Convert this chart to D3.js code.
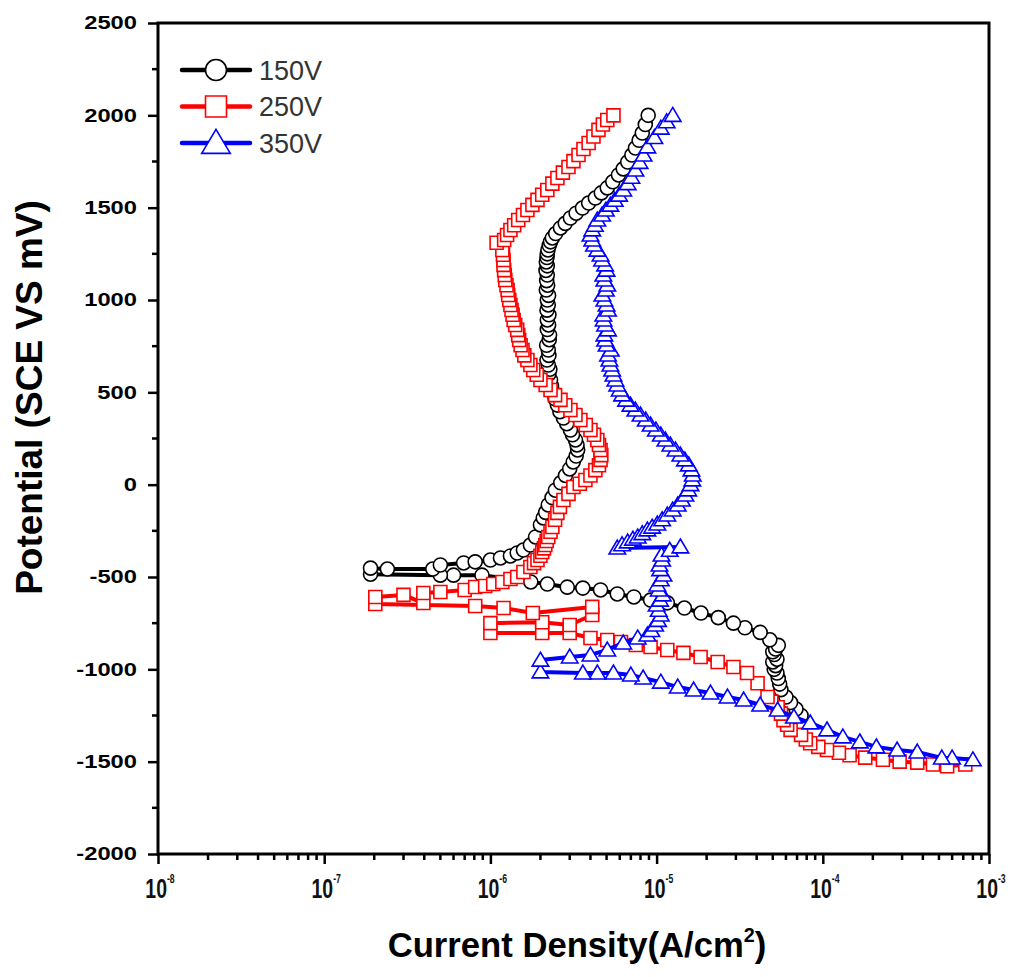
<!DOCTYPE html>
<html>
<head>
<meta charset="utf-8">
<script src="https://cdn.jsdelivr.net/npm/d3@7"></script>
<style>
  body { margin: 0; background: #fff; }
  svg { font-family: "Liberation Sans", Arial, sans-serif; }
</style>
</head>
<body>
<svg id="chart" width="1012" height="977"></svg>
<script>
// [current density (A/cm2), potential (mV vs SCE)], in scan order
const data150V = [
  [7.4e-5,-1250],[6.9e-5,-1215],[6.4e-5,-1180],[6.0e-5,-1150],[5.6e-5,-1110],[5.5e-5,-1080],
  [5.4e-5,-1050],[5.3e-5,-1020],[5.1e-5,-1000],[5.2e-5,-980],[5.0e-5,-960],[5.3e-5,-945],
  [5.1e-5,-920],[5.0e-5,-905],[5.2e-5,-890],[5.4e-5,-870],[4.8e-5,-840],[4.2e-5,-800],
  [3.4e-5,-775],[2.9e-5,-750],[2.35e-5,-720],[1.85e-5,-695],[1.47e-5,-668],[1.16e-5,-640],
  [9.2e-6,-625],[7.3e-6,-608],[5.8e-6,-592],[4.6e-6,-570],[3.6e-6,-560],[2.9e-6,-555],
  [2.2e-6,-538],[1.75e-6,-527],[8.9e-7,-490],[6.0e-7,-490],[5.0e-7,-490],[1.9e-7,-485],
  [1.9e-7,-452],[2.4e-7,-457],[4.5e-7,-457],[5.0e-7,-435],[6.9e-7,-424],[8.1e-7,-418],
  [1.0e-6,-408],[1.15e-6,-397],[1.32e-6,-386],[1.45e-6,-370],[1.58e-6,-354],[1.74e-6,-327],
  [1.87e-6,-283],[2.0e-6,-218],[2.08e-6,-180],[2.15e-6,-150],[2.23e-6,-110],[2.35e-6,-70],
  [2.46e-6,-30],[2.65e-6,10],[2.83e-6,50],[3.0e-6,85],[3.15e-6,123],[3.28e-6,155],
  [3.35e-6,188],[3.32e-6,215],[3.25e-6,242],[3.12e-6,270],[3.03e-6,296],[2.88e-6,330],
  [2.75e-6,361],[2.62e-6,395],[2.53e-6,431],[2.45e-6,465],[2.39e-6,500],[2.33e-6,535],
  [2.3e-6,567],[2.25e-6,600],[2.28e-6,625],[2.23e-6,648],[2.19e-6,675],[2.25e-6,700],
  [2.23e-6,729],[2.18e-6,755],[2.26e-6,785],[2.27e-6,811],[2.2e-6,840],[2.24e-6,865],
  [2.2e-6,892],[2.25e-6,920],[2.19e-6,945],[2.23e-6,973],[2.2e-6,1000],[2.24e-6,1025],
  [2.17e-6,1054],[2.21e-6,1080],[2.18e-6,1105],[2.2e-6,1135],[2.16e-6,1160],[2.2e-6,1185],
  [2.17e-6,1206],[2.19e-6,1230],[2.2e-6,1250],[2.22e-6,1271],[2.26e-6,1295],[2.3e-6,1315],
  [2.36e-6,1336],[2.47e-6,1360],[2.64e-6,1390],[2.82e-6,1415],[3.03e-6,1444],[3.28e-6,1470],
  [3.58e-6,1498],[3.9e-6,1525],[4.28e-6,1552],[4.65e-6,1580],[5.05e-6,1607],[5.45e-6,1640],
  [5.9e-6,1677],[6.3e-6,1710],[6.7e-6,1747],[7.1e-6,1785],[7.46e-6,1823],[7.85e-6,1865],
  [8.2e-6,1904],[8.55e-6,1950],[8.9e-6,2000]
];
const data250V = [
  [7.2e-4,-1515],[5.6e-4,-1525],[4.6e-4,-1515],[3.7e-4,-1505],[2.9e-4,-1500],[2.3e-4,-1490],
  [1.8e-4,-1478],[1.45e-4,-1465],[1.25e-4,-1452],[1.06e-4,-1437],[9.4e-5,-1420],[8.4e-5,-1400],
  [7.9e-5,-1380],[7.4e-5,-1355],[6.4e-5,-1328],[6.1e-5,-1300],[5.8e-5,-1275],[5.6e-5,-1240],
  [5.35e-5,-1205],[4.9e-5,-1175],[4.65e-5,-1150],[4.05e-5,-1075],[3.5e-5,-1020],[2.9e-5,-987],
  [2.33e-5,-960],[1.84e-5,-933],[1.45e-5,-911],[1.16e-5,-895],[9.2e-6,-879],[7.5e-6,-868],
  [6.1e-6,-852],[5.05e-6,-841],[4.0e-6,-830],[3.0e-6,-803],[2.05e-6,-803],[1.0e-6,-803],
  [1.0e-6,-750],[2.05e-6,-745],[3.0e-6,-760],[4.1e-6,-706],[4.1e-6,-662],[1.8e-6,-695],
  [1.2e-6,-668],[8.1e-7,-657],[2.03e-7,-646],[2.03e-7,-608],[3.0e-7,-597],[3.95e-7,-641],
  [3.95e-7,-587],[5.0e-7,-581],[7.0e-7,-570],[8.1e-7,-554],[9.3e-7,-549],[1.04e-6,-538],
  [1.18e-6,-527],[1.32e-6,-511],[1.45e-6,-500],[1.58e-6,-473],[1.74e-6,-446],[1.83e-6,-425],
  [1.92e-6,-408],[2.0e-6,-385],[2.05e-6,-365],[2.1e-6,-345],[2.14e-6,-327],[2.18e-6,-305],
  [2.23e-6,-283],[2.3e-6,-255],[2.36e-6,-229],[2.45e-6,-190],[2.53e-6,-153],[2.62e-6,-120],
  [2.75e-6,-83],[2.95e-6,-50],[3.16e-6,-13],[3.45e-6,5],[3.73e-6,25],[4.0e-6,50],
  [4.28e-6,79],[4.5e-6,105],[4.6e-6,134],[4.65e-6,160],[4.6e-6,188],[4.5e-6,215],
  [4.4e-6,242],[4.2e-6,270],[4.0e-6,296],[3.75e-6,323],[3.48e-6,350],[3.25e-6,377],
  [3.03e-6,404],[2.82e-6,430],[2.64e-6,459],[2.45e-6,485],[2.3e-6,513],[2.15e-6,540],
  [2.0e-6,567],[1.9e-6,595],[1.81e-6,621],[1.74e-6,648],[1.67e-6,675],[1.6e-6,700],
  [1.56e-6,729],[1.52e-6,755],[1.49e-6,783],[1.47e-6,810],[1.45e-6,838],[1.41e-6,865],
  [1.38e-6,892],[1.36e-6,920],[1.34e-6,946],[1.32e-6,973],[1.3e-6,1000],[1.28e-6,1027],
  [1.27e-6,1054],[1.25e-6,1080],[1.23e-6,1108],[1.22e-6,1135],[1.21e-6,1162],[1.2e-6,1190],
  [1.2e-6,1217],[1.19e-6,1245],[1.18e-6,1271],[1.09e-6,1310],[1.21e-6,1325],[1.26e-6,1352],
  [1.32e-6,1379],[1.39e-6,1405],[1.47e-6,1433],[1.57e-6,1460],[1.67e-6,1487],[1.79e-6,1515],
  [1.92e-6,1542],[2.05e-6,1570],[2.2e-6,1596],[2.36e-6,1630],[2.53e-6,1661],[2.73e-6,1690],
  [2.95e-6,1720],[3.16e-6,1752],[3.39e-6,1785],[3.63e-6,1818],[3.9e-6,1850],[4.17e-6,1885],
  [4.47e-6,1921],[4.75e-6,1950],[5.05e-6,1975],[5.5e-6,2000]
];
const data350V = [
  [8.0e-4,-1490],[6.0e-4,-1480],[5.2e-4,-1480],[3.7e-4,-1448],[2.8e-4,-1437],[2.1e-4,-1420],
  [1.67e-4,-1393],[1.32e-4,-1366],[1.06e-4,-1328],[8.4e-5,-1290],[6.7e-5,-1258],[5.35e-5,-1220],
  [4.2e-5,-1193],[3.34e-5,-1166],[2.67e-5,-1150],[2.11e-5,-1128],[1.67e-5,-1112],[1.34e-5,-1096],
  [1.06e-5,-1069],[8.3e-6,-1047],[7.0e-6,-1031],[5.5e-6,-1020],[4.4e-6,-1020],[3.6e-6,-1020],
  [2.0e-6,-1014],[2.0e-6,-950],[3.0e-6,-933],[4.0e-6,-922],[5.05e-6,-895],[6.3e-6,-857],
  [7.7e-6,-830],[8.8e-6,-814],[9.3e-6,-790],[9.8e-6,-760],[1.02e-5,-735],[1.06e-5,-706],
  [1.03e-5,-680],[1.0e-5,-652],[1.05e-5,-625],[1.09e-5,-597],[1.03e-5,-570],[1.01e-5,-543],
  [1.06e-5,-515],[1.1e-5,-489],[1.05e-5,-460],[1.04e-5,-435],[1.08e-5,-408],[1.07e-5,-381],
  [1.2e-5,-355],[1.39e-5,-337],[5.8e-6,-343],[6.2e-6,-325],[6.7e-6,-310],[7.2e-6,-295],
  [7.7e-6,-283],[8.2e-6,-265],[8.8e-6,-245],[9.4e-6,-230],[1.01e-5,-213],[1.08e-5,-190],
  [1.16e-5,-164],[1.25e-5,-137],[1.34e-5,-110],[1.42e-5,-83],[1.49e-5,-56],[1.55e-5,-28],
  [1.6e-5,0],[1.64e-5,26],[1.65e-5,52],[1.62e-5,80],[1.56e-5,107],[1.48e-5,134],
  [1.39e-5,161],[1.3e-5,188],[1.21e-5,215],[1.13e-5,242],[1.06e-5,269],[9.9e-6,296],
  [9.2e-6,323],[8.6e-6,350],[8.0e-6,377],[7.45e-6,404],[6.96e-6,431],[6.55e-6,458],
  [6.2e-6,486],[6.0e-6,513],[5.8e-6,540],[5.65e-6,567],[5.5e-6,594],[5.4e-6,621],
  [5.27e-6,648],[5.2e-6,675],[5.1e-6,702],[5.3e-6,729],[5.0e-6,756],[4.9e-6,783],
  [4.85e-6,811],[5.1e-6,838],[4.9e-6,865],[4.8e-6,892],[4.78e-6,919],[5.1e-6,946],
  [5.0e-6,973],[4.85e-6,1000],[4.72e-6,1027],[4.95e-6,1054],[5.05e-6,1081],[4.85e-6,1108],
  [4.78e-6,1135],[5.0e-6,1162],[4.9e-6,1190],[4.7e-6,1217],[4.6e-6,1244],[4.4e-6,1270],
  [4.2e-6,1298],[4.1e-6,1325],[4.0e-6,1352],[4.1e-6,1380],[4.25e-6,1405],[4.4e-6,1433],
  [4.7e-6,1460],[4.95e-6,1487],[5.27e-6,1514],[5.6e-6,1540],[5.95e-6,1568],[6.3e-6,1596],
  [6.7e-6,1630],[7.05e-6,1665],[7.46e-6,1704],[7.9e-6,1745],[8.35e-6,1785],[8.8e-6,1829],
  [9.7e-6,1880],[1.06e-5,1931],[1.15e-5,1965],[1.25e-5,2000]
];

const seriesNames = ['150V', '250V', '350V'];
const seriesColors = ['#000000', '#ff0000', '#0000ff'];
const seriesSymbols = ['circle', 'square', 'triangle'];
const seriesData = [data150V, data250V, data350V];

const potentialTicks = [-2000, -1500, -1000, -500, 0, 500, 1000, 1500, 2000, 2500];
const currentDecades = [-8, -7, -6, -5, -4, -3];

const svg = d3.select('#chart');
const x = d3.scaleLog().domain([1e-8, 1e-3]).range([158, 989]);
const y = d3.scaleLinear().domain([-2000, 2500]).range([854, 23]);

// horizontally stretched text, like the source figure
function stretchText(g, sx) {
  g.each(function() {
    const t = d3.select(this);
    const tr = t.attr('data-pos').split(',').map(Number);
    t.attr('transform', `translate(${tr[0]},${tr[1]}) scale(${sx},1)`);
  });
}

// symbols
function symbolPath(type, s) {
  if (type === 'circle') return d3.symbol(d3.symbolCircle, Math.PI * s * s)();
  if (type === 'square') return `M${-s},${-s}H${s}V${s}H${-s}Z`;
  return `M0,${-s * 1.05}L${s * 1.1},${s * 0.8}L${-s * 1.1},${s * 0.8}Z`;
}
const markerSize = { circle: 7, square: 6.5, triangle: 7.5 };

// y axis
const yAxis = svg.append('g')
  .attr('transform', 'translate(158,0)')
  .call(d3.axisLeft(y).tickValues(potentialTicks).tickSize(10).tickFormat(''));
yAxis.select('.domain').remove();
yAxis.selectAll('.tick line').attr('stroke-width', 2.5);

svg.append('g').selectAll('line')
  .data(d3.range(-1750, 2500, 500))
  .join('line')
  .attr('x1', 152).attr('x2', 158)
  .attr('y1', d => y(d)).attr('y2', d => y(d))
  .attr('stroke', '#000').attr('stroke-width', 2.5);

svg.append('g').selectAll('text')
  .data(potentialTicks)
  .join('text')
  .attr('data-pos', d => `137,${y(d)}`)
  .attr('text-anchor', 'end')
  .attr('dy', '0.36em')
  .attr('font-size', 18)
  .attr('font-weight', 'bold')
  .text(d => d)
  .call(stretchText, 1.32);

// x axis
const xAxis = svg.append('g')
  .attr('transform', 'translate(0,854)')
  .call(d3.axisBottom(x).tickValues(currentDecades.map(e => Math.pow(10, e)))
    .tickSize(10).tickFormat(''));
xAxis.select('.domain').remove();
xAxis.selectAll('.tick line').attr('stroke-width', 2.5);

const minorX = [];
currentDecades.slice(0, -1).forEach(e => {
  for (let m = 2; m <= 9; m++) minorX.push(m * Math.pow(10, e));
});
svg.append('g').selectAll('line')
  .data(minorX)
  .join('line')
  .attr('x1', d => x(d)).attr('x2', d => x(d))
  .attr('y1', 854).attr('y2', 860)
  .attr('stroke', '#000').attr('stroke-width', 2.5);

const xLabels = svg.append('g').selectAll('text')
  .data(currentDecades)
  .join('text')
  .attr('data-pos', d => `${x(Math.pow(10, d)) + 2},898`)
  .attr('text-anchor', 'middle')
  .attr('font-size', 27)
  .attr('font-weight', 'bold')
  .attr('fill', '#111');
xLabels.append('tspan').text('10');
xLabels.append('tspan').attr('dy', -15).attr('font-size', 12).text(d => d);
xLabels.call(stretchText, 0.72);

// frame
svg.append('rect')
  .attr('x', 158).attr('y', 23)
  .attr('width', 989 - 158).attr('height', 854 - 23)
  .attr('fill', 'none').attr('stroke', '#000').attr('stroke-width', 3);

// axis titles
svg.append('text')
  .attr('transform', `translate(42,${(200 + 595) / 2}) rotate(-90)`)
  .attr('text-anchor', 'middle')
  .attr('font-size', 37)
  .attr('font-weight', 'bold')
  .text('Potential (SCE VS mV)');

const xt = svg.append('text')
  .attr('data-pos', '577,957')
  .attr('text-anchor', 'middle')
  .attr('font-size', 35)
  .attr('font-weight', 'bold');
xt.append('tspan').text('Current Density(A/cm');
xt.append('tspan').attr('dy', -15).attr('font-size', 20).text('2');
xt.append('tspan').attr('dy', 15).text(')');
xt.call(stretchText, 0.99);

// series
const line = d3.line().x(d => x(d[0])).y(d => y(d[1]));
seriesData.forEach((data, i) => {
  const g = svg.append('g').attr('class', 'series');
  g.append('path')
    .datum(data)
    .attr('d', line)
    .attr('fill', 'none')
    .attr('stroke', seriesColors[i])
    .attr('stroke-width', 4)
    .attr('stroke-linejoin', 'round');
  g.selectAll('path.mk')
    .data(data)
    .join('path')
    .attr('class', 'mk')
    .attr('transform', d => `translate(${x(d[0])},${y(d[1])})`)
    .attr('d', symbolPath(seriesSymbols[i], markerSize[seriesSymbols[i]]))
    .attr('fill', '#fff')
    .attr('stroke', seriesColors[i])
    .attr('stroke-width', 1.6);
});

// legend
const legend = svg.append('g').selectAll('g')
  .data(seriesNames)
  .join('g')
  .attr('transform', (d, i) => `translate(182,${70 + i * 36.5})`);
legend.append('line')
  .attr('x1', 0).attr('x2', 68)
  .attr('stroke', (d, i) => seriesColors[i])
  .attr('stroke-width', 4.5)
  .attr('stroke-linecap', 'round');
legend.append('path')
  .attr('transform', 'translate(34,0)')
  .attr('d', (d, i) => symbolPath(seriesSymbols[i], seriesSymbols[i] === 'triangle' ? 13 : 10.5))
  .attr('fill', '#fff')
  .attr('stroke', (d, i) => seriesColors[i])
  .attr('stroke-width', 1.6);
legend.append('text')
  .attr('x', 77)
  .attr('dy', '0.36em')
  .attr('font-size', 27)
  .attr('fill', '#333')
  .text(d => d);
</script>
</body>
</html>
